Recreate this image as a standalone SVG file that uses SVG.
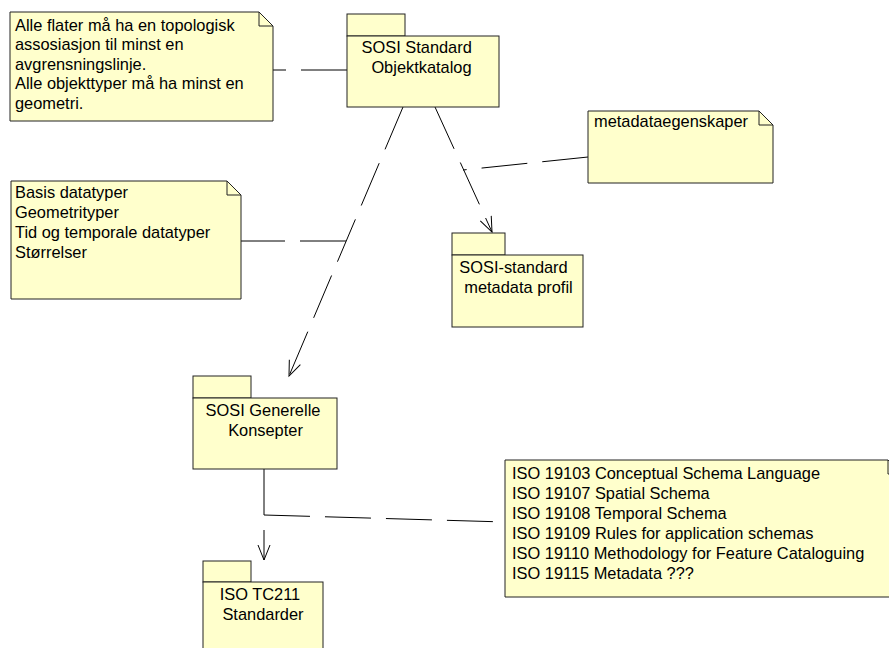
<svg xmlns="http://www.w3.org/2000/svg" width="889" height="648" viewBox="0 0 889 648">
<style>
.shape{fill:#FFFFCC;stroke:#222;stroke-width:1}
.fold{fill:none;stroke:#222;stroke-width:1}
.t{font-family:"Liberation Sans",Arial,sans-serif;font-size:16.4px;fill:#000}
.c{text-anchor:middle}
.dash{fill:none;stroke:#000;stroke-width:1;stroke-dasharray:46 15}
</style>
<defs>
<marker id="arr" markerUnits="userSpaceOnUse" markerWidth="20" markerHeight="20" refX="0" refY="0" orient="auto" overflow="visible">
<path d="M-15,-6 L0,0 L-15,6" fill="none" stroke="#000" stroke-width="1" stroke-dasharray="none"/>
</marker>
</defs>
<rect width="889" height="648" fill="#fff"/>
<g id="connectors">
<path class="dash" d="M347,70 L273,70"/>
<path class="dash" d="M346,241 L241,241"/>
<path class="dash" d="M588,157 L463,170"/>
<path class="dash" d="M264,515 L505,522"/>
<path class="dash" d="M403,107 L289,376" marker-end="url(#arr)"/>
<path class="dash" d="M435,107 L492,232" marker-end="url(#arr)"/>
<path class="dash" d="M264,469 L264,560" marker-end="url(#arr)"/>
</g>
<g id="note-flater">
<path class="shape" d="M10,12 L259,12 L273,26 L273,121 L10,121 Z"/>
<path class="fold" d="M259,12 L259,26 L273,26"/>
<text class="t" x="15" y="30.5">Alle flater må ha en topologisk</text>
<text class="t" x="15" y="50">assosiasjon til minst en</text>
<text class="t" x="15" y="69.5">avgrensningslinje.</text>
<text class="t" x="15" y="89">Alle objekttyper må ha minst en</text>
<text class="t" x="15" y="108.5">geometri.</text>
</g>
<g id="pkg-objektkatalog">
<rect class="shape" x="347" y="14" width="58" height="22"/>
<rect class="shape" x="347" y="36" width="152" height="71"/>
<text class="t c" x="416.7" y="53">SOSI Standard</text>
<text class="t c" x="421.5" y="73">Objektkatalog</text>
</g>
<g id="note-metadataegenskaper">
<path class="shape" d="M588,111 L759,111 L773,125 L773,183 L588,183 Z"/>
<path class="fold" d="M759,111 L759,125 L773,125"/>
<text class="t" x="594" y="127">metadataegenskaper</text>
</g>
<g id="note-basis">
<path class="shape" d="M11,181 L227,181 L241,195 L241,299 L11,299 Z"/>
<path class="fold" d="M227,181 L227,195 L241,195"/>
<text class="t" x="15" y="198">Basis datatyper</text>
<text class="t" x="15" y="218">Geometrityper</text>
<text class="t" x="15" y="238">Tid og temporale datatyper</text>
<text class="t" x="15" y="258">Størrelser</text>
</g>
<g id="pkg-metadata-profil">
<rect class="shape" x="452" y="233" width="53" height="22"/>
<rect class="shape" x="452" y="255" width="131" height="72"/>
<text class="t c" x="513.5" y="273">SOSI-standard</text>
<text class="t c" x="518.5" y="293">metadata profil</text>
</g>
<g id="pkg-generelle">
<rect class="shape" x="193" y="376" width="58" height="22"/>
<rect class="shape" x="193" y="398" width="144" height="71"/>
<text class="t c" x="263" y="415.5">SOSI Generelle</text>
<text class="t c" x="265.5" y="436">Konsepter</text>
</g>
<g id="note-iso">
<path class="shape" d="M505,460 L888,460 L902,474 L902,597 L505,597 Z"/>
<path class="fold" d="M888,460 L888,474 L902,474"/>
<text class="t" x="512" y="479">ISO 19103 Conceptual Schema Language</text>
<text class="t" x="512" y="499">ISO 19107 Spatial Schema</text>
<text class="t" x="512" y="519">ISO 19108 Temporal Schema</text>
<text class="t" x="512" y="539">ISO 19109 Rules for application schemas</text>
<text class="t" x="512" y="559">ISO 19110 Methodology for Feature Cataloguing</text>
<text class="t" x="512" y="579">ISO 19115 Metadata ???</text>
</g>
<g id="pkg-iso-tc211">
<rect class="shape" x="203" y="561" width="48" height="21"/>
<rect class="shape" x="203" y="582" width="120" height="72"/>
<text class="t c" x="260" y="600">ISO TC211</text>
<text class="t c" x="263" y="620">Standarder</text>
</g>
</svg>
